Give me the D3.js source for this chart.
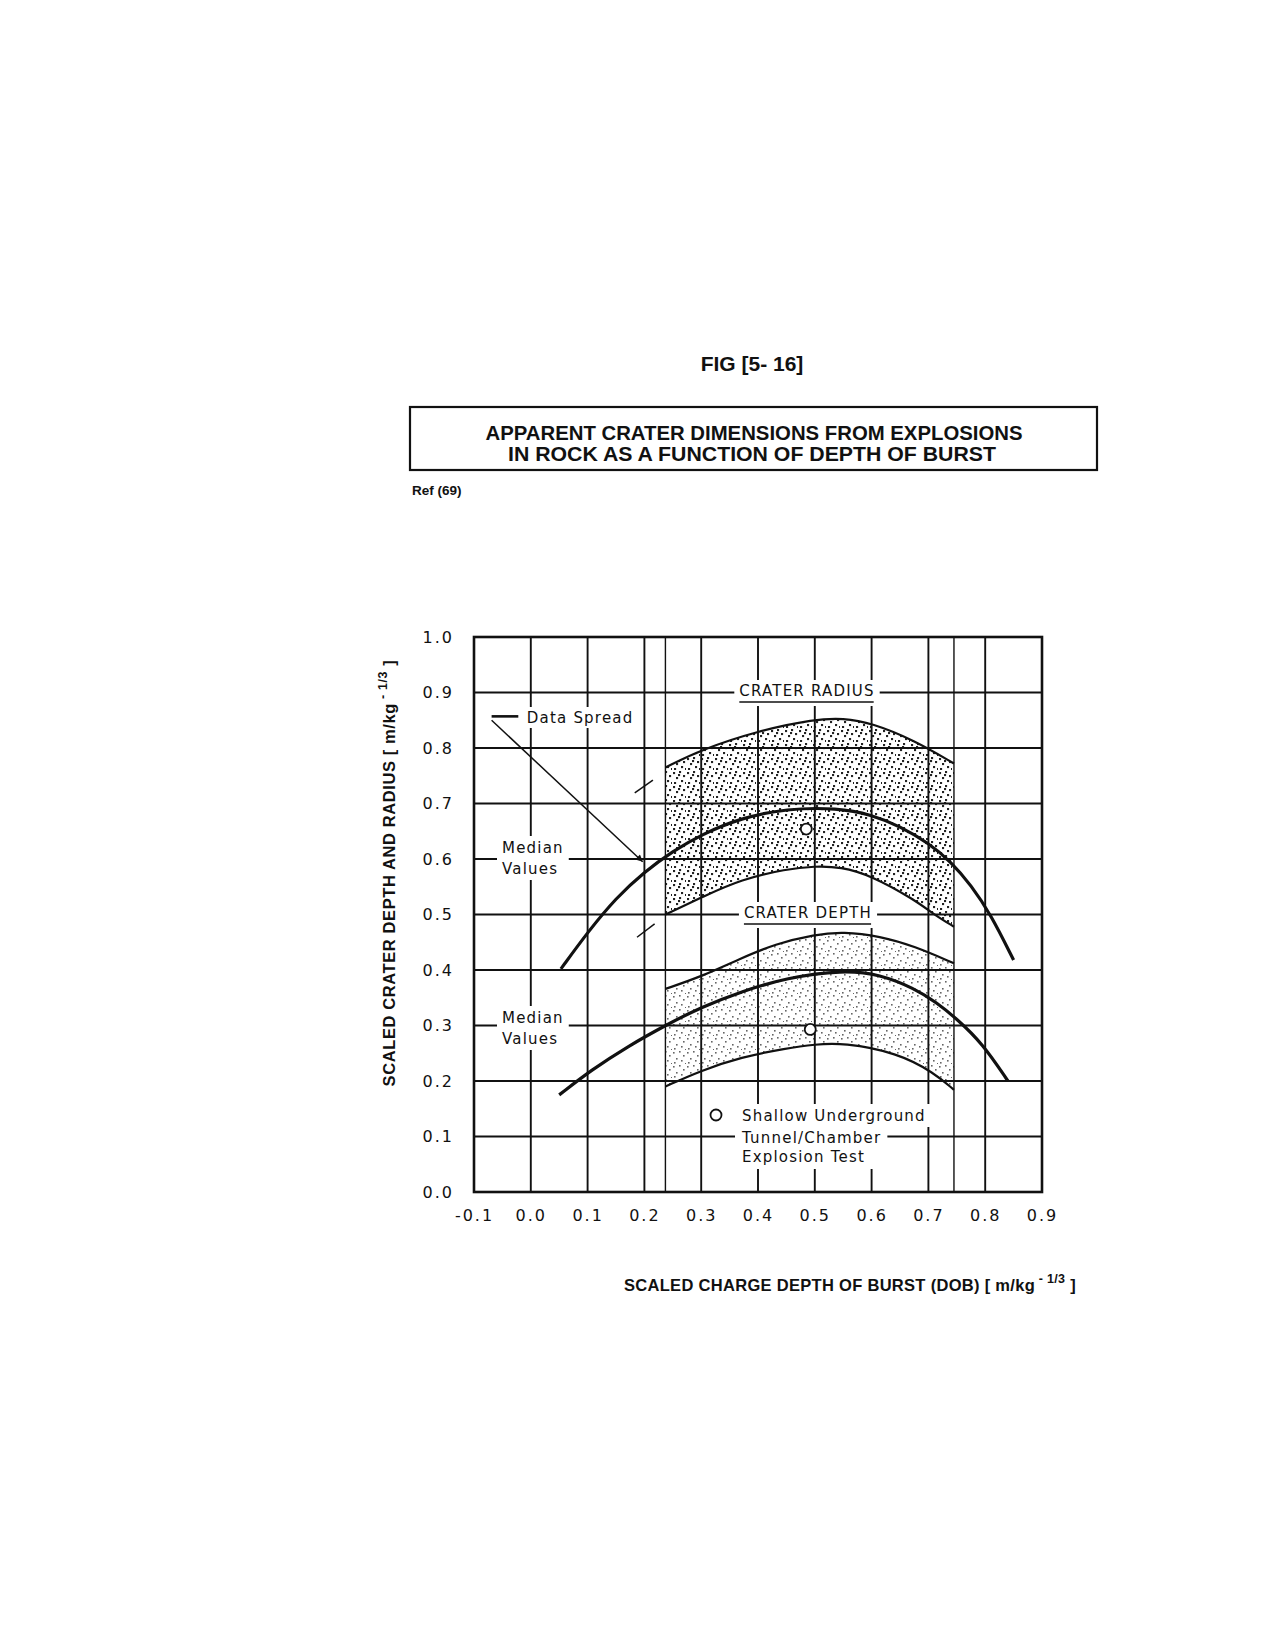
<!DOCTYPE html>
<html>
<head>
<meta charset="utf-8">
<script src="https://cdn.jsdelivr.net/npm/d3@7"></script>
<style>
  html, body { margin: 0; padding: 0; background: #fff; }
  svg { display: block; }
  .lab { font-family: "DejaVu Sans", sans-serif; font-size: 15px; letter-spacing: 1.2px; fill: #111; }
  .tick text { font-family: "DejaVu Sans", sans-serif; font-size: 16px; letter-spacing: 2px; fill: #111; }
  .hdr { font-family: "Liberation Sans", Arial, sans-serif; font-weight: bold; fill: #111; }
</style>
</head>
<body>
<div id="chart"></div>
<script>
// ---- data (x = scaled DOB, y = scaled depth / radius) ----
const xTicks = [-0.1, 0.0, 0.1, 0.2, 0.3, 0.4, 0.5, 0.6, 0.7, 0.8, 0.9];
const xTickLabels = ["-0.1", "0.0", "0.1", "0.2", "0.3", "0.4", "0.5", "0.6", "0.7", "0.8", "0.9"];
const yTicks = [0.0, 0.1, 0.2, 0.3, 0.4, 0.5, 0.6, 0.7, 0.8, 0.9, 1.0];
const yTickLabels = ["0.0", "0.1", "0.2", "0.3", "0.4", "0.5", "0.6", "0.7", "0.8", "0.9", "1.0"];

const xGridLines = [0.0, 0.1, 0.2, 0.237, 0.3, 0.4, 0.5, 0.6, 0.7, 0.745, 0.8];
const yGridLines = [0.1, 0.2, 0.3, 0.4, 0.5, 0.6, 0.7, 0.8, 0.9];

const radiusUpper = [[0.237, 0.765], [0.30, 0.797], [0.40, 0.831], [0.50, 0.852], [0.55, 0.854],
  [0.60, 0.845], [0.675, 0.814], [0.745, 0.772]];
const radiusMedian = [[0.053, 0.402], [0.10, 0.468], [0.15, 0.530], [0.20, 0.577], [0.25, 0.614],
  [0.30, 0.644], [0.37, 0.674], [0.45, 0.691], [0.54, 0.692], [0.60, 0.680], [0.65, 0.659],
  [0.70, 0.629], [0.74, 0.595], [0.775, 0.553], [0.81, 0.500], [0.85, 0.418]];
const radiusLower = [[0.237, 0.500], [0.305, 0.533], [0.370, 0.563], [0.450, 0.582], [0.500, 0.587],
  [0.545, 0.586], [0.600, 0.570], [0.675, 0.527], [0.710, 0.500], [0.745, 0.478]];

const depthUpper = [[0.237, 0.366], [0.300, 0.388], [0.370, 0.421], [0.430, 0.447], [0.500, 0.464],
  [0.550, 0.469], [0.615, 0.461], [0.675, 0.443], [0.745, 0.412]];
const depthMedian = [[0.050, 0.175], [0.107, 0.220], [0.170, 0.262], [0.240, 0.302], [0.300, 0.333],
  [0.370, 0.361], [0.450, 0.386], [0.550, 0.400], [0.615, 0.392], [0.675, 0.367], [0.715, 0.341],
  [0.750, 0.312], [0.795, 0.268], [0.840, 0.200]];
const depthLower = [[0.237, 0.190], [0.300, 0.219], [0.370, 0.243], [0.450, 0.259], [0.500, 0.266],
  [0.550, 0.269], [0.645, 0.251], [0.710, 0.215], [0.745, 0.184]];

const testPoints = [[0.485, 0.654], [0.492, 0.293]];

const spreadArrow = [[-0.069, 0.850], [0.197, 0.595]];
const spreadDash = [[-0.069, 0.857], [-0.022, 0.857]];
const slashMarks = [[[0.183, 0.719], [0.215, 0.742]], [[0.187, 0.459], [0.218, 0.483]]];

// ---- drawing ----
const width = 1275, height = 1650;
const svg = d3.select("#chart").append("svg")
  .attr("width", width).attr("height", height);
svg.append("rect").attr("width", width).attr("height", height).attr("fill", "#fff");

const x = d3.scaleLinear().domain([-0.1, 0.9]).range([474, 1042]);
const y = d3.scaleLinear().domain([0, 1]).range([1192, 637]);

// header
svg.append("text").attr("class", "hdr").attr("x", 752).attr("y", 371)
  .attr("text-anchor", "middle").attr("font-size", 21).text("FIG [5- 16]");
svg.append("rect").attr("x", 410).attr("y", 407).attr("width", 687).attr("height", 63)
  .attr("fill", "none").attr("stroke", "#111").attr("stroke-width", 2.2);
svg.append("text").attr("class", "hdr").attr("x", 754).attr("y", 440)
  .attr("text-anchor", "middle").attr("font-size", 20)
  .attr("textLength", 537).attr("lengthAdjust", "spacingAndGlyphs")
  .text("APPARENT CRATER DIMENSIONS FROM EXPLOSIONS");
svg.append("text").attr("class", "hdr").attr("x", 752).attr("y", 461)
  .attr("text-anchor", "middle").attr("font-size", 20)
  .attr("textLength", 488).attr("lengthAdjust", "spacingAndGlyphs")
  .text("IN ROCK AS A FUNCTION OF DEPTH OF BURST");
svg.append("text").attr("class", "hdr").attr("x", 412).attr("y", 495)
  .attr("font-size", 13.5).text("Ref (69)");

// dot patterns for the data spread
const defs = svg.append("defs");
const dense = defs.append("pattern").attr("id", "dotsDense").attr("patternUnits", "userSpaceOnUse")
  .attr("width", 14).attr("height", 14);
[[1, 2], [7, 1], [11, 5], [4, 7], [9, 10], [2, 12], [13, 12], [6, 4]].forEach(p =>
  dense.append("rect").attr("x", p[0]).attr("y", p[1]).attr("width", 2.1).attr("height", 2.1).attr("fill", "#222"));
const light = defs.append("pattern").attr("id", "dotsLight").attr("patternUnits", "userSpaceOnUse")
  .attr("width", 14).attr("height", 14);
[[1, 2], [7, 1], [11, 5], [4, 8], [9, 10], [2, 12], [13, 13]].forEach(p =>
  light.append("rect").attr("x", p[0]).attr("y", p[1]).attr("width", 1.6).attr("height", 1.6).attr("fill", "#666"));

const line = d3.line().x(d => x(d[0])).y(d => y(d[1])).curve(d3.curveBasis);
const bandPath = (up, lo) => line(up) + line(lo.slice().reverse()).replace(/^M/, "L") + "Z";

svg.append("path").attr("d", bandPath(radiusUpper, radiusLower)).attr("fill", "url(#dotsDense)");
svg.append("path").attr("d", bandPath(depthUpper, depthLower)).attr("fill", "url(#dotsLight)");

// grid
const grid = svg.append("g").attr("stroke", "#111");
grid.selectAll("line.h").data(yGridLines).join("line").attr("class", "h")
  .attr("x1", x(-0.1)).attr("x2", x(0.9)).attr("y1", d => y(d)).attr("y2", d => y(d))
  .attr("stroke-width", 2);
grid.selectAll("line.v").data(xGridLines).join("line").attr("class", "v")
  .attr("x1", d => x(d)).attr("x2", d => x(d)).attr("y1", y(1)).attr("y2", y(0))
  .attr("stroke-width", d => (d === 0.237 || d === 0.745) ? 1.4 : 1.9);

// curves
const curves = [
  [radiusUpper, 2.2], [radiusMedian, 3.2], [radiusLower, 2.2],
  [depthUpper, 2.2], [depthMedian, 3.2], [depthLower, 2.2]
];
svg.selectAll("path.curve").data(curves).join("path").attr("class", "curve")
  .attr("d", d => line(d[0])).attr("fill", "none").attr("stroke", "#111")
  .attr("stroke-width", d => d[1]);

// small slash marks at x = 0.2
svg.selectAll("line.slash").data(slashMarks).join("line").attr("class", "slash")
  .attr("x1", d => x(d[0][0])).attr("y1", d => y(d[0][1]))
  .attr("x2", d => x(d[1][0])).attr("y2", d => y(d[1][1]))
  .attr("stroke", "#111").attr("stroke-width", 1.5);

// labels with white backing that breaks the grid lines
function label(lines, x0, yBase, anchor, lineGap, pad) {
  const g = svg.append("g");
  const t = g.append("text").attr("class", "lab").attr("text-anchor", anchor);
  lines.forEach((s, i) => t.append("tspan").attr("x", x0).attr("y", yBase + i * lineGap).text(s));
  const b = t.node().getBBox();
  g.insert("rect", "text").attr("x", b.x - pad[0]).attr("y", b.y - pad[1])
    .attr("width", b.width + 2 * pad[0]).attr("height", b.height + pad[1] + pad[2]).attr("fill", "#fff");
  return b;
}

// Data Spread
label(["Data Spread"], x(-0.007), 723, "start", 0, [5, 2, 1]);
svg.append("line").attr("x1", x(spreadDash[0][0])).attr("y1", y(spreadDash[0][1]))
  .attr("x2", x(spreadDash[1][0])).attr("y2", y(spreadDash[1][1]))
  .attr("stroke", "#111").attr("stroke-width", 2.6);
defs.append("marker").attr("id", "arrow").attr("viewBox", "0 0 10 10").attr("refX", 10).attr("refY", 5)
  .attr("markerWidth", 9).attr("markerHeight", 7).attr("orient", "auto").attr("markerUnits", "userSpaceOnUse")
  .append("path").attr("d", "M0,0L10,5L0,10Z").attr("fill", "#111");
svg.append("line").attr("x1", x(spreadArrow[0][0])).attr("y1", y(spreadArrow[0][1]))
  .attr("x2", x(spreadArrow[1][0])).attr("y2", y(spreadArrow[1][1]))
  .attr("stroke", "#111").attr("stroke-width", 1.5).attr("marker-end", "url(#arrow)");

// Median values
label(["Median", "Values"], 502, 853, "start", 21, [5, 3, 2]);
label(["Median", "Values"], 502, 1023, "start", 21, [5, 3, 2]);

// Crater radius / depth titles with underline
[["CRATER RADIUS", 807, 696, 702], ["CRATER DEPTH", 808, 918, 924]].forEach(d => {
  const b = label([d[0]], d[1], d[2], "middle", 0, [5, 2, 6]);
  svg.append("line").attr("x1", b.x).attr("x2", b.x + b.width - 1)
    .attr("y1", d[3]).attr("y2", d[3]).attr("stroke", "#111").attr("stroke-width", 1.6);
});

// legend
label(["Shallow Underground"], 742, 1121, "start", 0, [6, 3, 2]);
label(["Tunnel/Chamber", "Explosion Test"], 742, 1143, "start", 19, [6, 2, 3]);
svg.append("circle").attr("cx", 716).attr("cy", 1115).attr("r", 5.5)
  .attr("fill", "#fff").attr("stroke", "#111").attr("stroke-width", 1.8);

// test points
svg.selectAll("circle.pt").data(testPoints).join("circle").attr("class", "pt")
  .attr("cx", d => x(d[0])).attr("cy", d => y(d[1])).attr("r", 5.5)
  .attr("fill", "#fff").attr("stroke", "#111").attr("stroke-width", 1.8);

// frame
svg.append("rect").attr("x", x(-0.1)).attr("y", y(1)).attr("width", x(0.9) - x(-0.1))
  .attr("height", y(0) - y(1)).attr("fill", "none").attr("stroke", "#111").attr("stroke-width", 2.6);

// axes (labels only)
const xAxis = d3.axisBottom(x).tickValues(xTicks).tickSize(0).tickPadding(18)
  .tickFormat((d, i) => xTickLabels[i]);
svg.append("g").attr("transform", `translate(0,${y(0)})`).call(xAxis)
  .call(g => g.select(".domain").remove());
const yAxis = d3.axisLeft(y).tickValues(yTicks).tickSize(0).tickPadding(20)
  .tickFormat((d, i) => yTickLabels[i]);
svg.append("g").attr("transform", `translate(${x(-0.1)},0)`).call(yAxis)
  .call(g => g.select(".domain").remove());

// axis titles
const xt = svg.append("text").attr("class", "hdr").attr("x", 624).attr("y", 1291)
  .attr("font-size", 16.5).attr("letter-spacing", 0.3);
xt.append("tspan").text("SCALED CHARGE DEPTH OF BURST (DOB)  [ m/kg");
xt.append("tspan").attr("dy", -8).attr("font-size", 12.5).text(" - 1/3");
xt.append("tspan").attr("dy", 8).text(" ]");

const yt = svg.append("text").attr("class", "hdr").attr("font-size", 16.5).attr("letter-spacing", 0.6)
  .attr("transform", "translate(395,873) rotate(-90)").attr("text-anchor", "middle");
yt.append("tspan").text("SCALED CRATER DEPTH AND RADIUS  [ m/kg");
yt.append("tspan").attr("dy", -8).attr("font-size", 12.5).text(" - 1/3");
yt.append("tspan").attr("dy", 8).text(" ]");
</script>
</body>
</html>
